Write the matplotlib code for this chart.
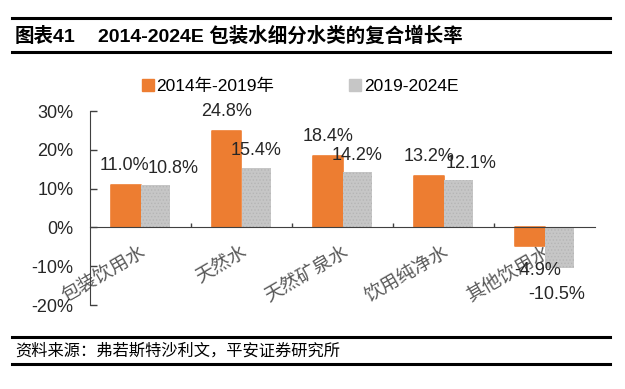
import matplotlib
matplotlib.use('Agg')
import matplotlib.pyplot as plt
from matplotlib.lines import Line2D
from matplotlib.patches import Patch
from matplotlib.ticker import FuncFormatter

plt.rcParams['font.family'] = ['Liberation Sans', 'Noto Sans CJK SC']
plt.rcParams['hatch.color'] = '#B5B5B5'
plt.rcParams['hatch.linewidth'] = 0.6

categories = ['包装饮用水', '天然水', '天然矿泉水', '饮用纯净水', '其他饮用水']
series_names = ['2014年-2019年', '2019-2024E']
cagr_2014_2019 = [11.0, 24.8, 18.4, 13.2, -4.9]
cagr_2019_2024 = [10.8, 15.4, 14.2, 12.1, -10.5]
yticks = [-20, -10, 0, 10, 20, 30]

ORANGE = '#ED7D31'
GRAY = '#C6C6C6'
W, H = 625, 389

fig = plt.figure(figsize=(6.25, 3.89), dpi=100)
ax = fig.add_axes([90 / W, 1 - 305 / H, 505 / W, 194 / H])

# spine position first: it resets the ticks
for s in ['top', 'right']:
    ax.spines[s].set_visible(False)
ax.spines['bottom'].set_position(('data', 0))
ax.spines['bottom'].set_color('#404040')
ax.spines['left'].set_color('#404040')
ax.spines['bottom'].set_zorder(4)
ax.set_facecolor('none')

x = list(range(len(categories)))
bw = 0.29
ax.bar([i - 0.145 for i in x], cagr_2014_2019, bw, color=ORANGE,
       edgecolor=ORANGE, linewidth=1.2, joinstyle='round', zorder=3)
ax.bar([i + 0.145 for i in x], cagr_2019_2024, bw, color=GRAY,
       edgecolor='#B5B5B5', linewidth=0, hatch='.....', zorder=3)

# data labels (small horizontal nudges where the reference shifts them)
nudge1 = [-1, 0, 0, 0, 8]
nudge2 = [18, 0, 0, 13, -2]
for i, v in enumerate(cagr_2014_2019):
    ax.annotate(f'{v:.1f}%', (i - 0.145, v), xytext=(nudge1[i] * 0.72, 8 if v > 0 else -11),
                textcoords='offset points', ha='center', va='bottom' if v > 0 else 'top',
                fontsize=13, color='#262626', zorder=5)
for i, v in enumerate(cagr_2019_2024):
    ax.annotate(f'{v:.1f}%', (i + 0.145, v), xytext=(nudge2[i] * 0.72, 6 if v > 0 else -13),
                textcoords='offset points', ha='center', va='bottom' if v > 0 else 'top',
                fontsize=13, color='#262626', zorder=5)

ax.set_xlim(-0.5, len(categories) - 0.5)
ax.set_ylim(-20, 30)
ax.set_yticks(yticks)
ax.yaxis.set_major_formatter(FuncFormatter(lambda v, p: f'{v:.0f}%'))
ax.tick_params(axis='y', direction='in', length=5, width=1, color='#404040',
               pad=12, labelsize=13, labelcolor='#262626')

ax.set_xticks(x)
ax.set_xticks([i + 0.5 for i in x[:-1]], minor=True)
ax.tick_params(axis='x', which='major', length=0, pad=11)
ax.tick_params(axis='x', which='minor', direction='in', length=3, width=1, color='#404040')
ax.set_xticklabels(categories, fontsize=13.5, color='#595959')
for lab in ax.get_xticklabels():
    lab.set_rotation(30)
    lab.set_ha('right')
    lab.set_va('top')
    lab.set_rotation_mode('anchor')

handles = [Patch(facecolor=ORANGE, edgecolor=ORANGE), Patch(facecolor=GRAY, edgecolor=GRAY)]
fig.legend(handles, series_names, loc='center', bbox_to_anchor=(300 / W, 1 - 86 / H),
           ncol=2, frameon=False, fontsize=12.5, handlelength=0.7, handleheight=0.7,
           handletextpad=0.15, columnspacing=4.3, borderpad=0)

# title block and source block
for yy in [18, 52, 337, 364]:
    fig.add_artist(Line2D([12 / W, 610 / W], [1 - yy / H] * 2, color='black', linewidth=2.2))
fig.text(15 / W, 1 - 36 / H, '图表41', fontsize=14, fontweight='bold', va='center')
fig.text(98 / W, 1 - 36 / H, '2014-2024E 包装水细分水类的复合增长率', fontsize=14,
         fontweight='bold', va='center')
fig.text(15 / W, 1 - 351 / H, '资料来源：弗若斯特沙利文，平安证券研究所', fontsize=11.7,
         style='italic', va='center')

fig.savefig('out.png', dpi=100)
